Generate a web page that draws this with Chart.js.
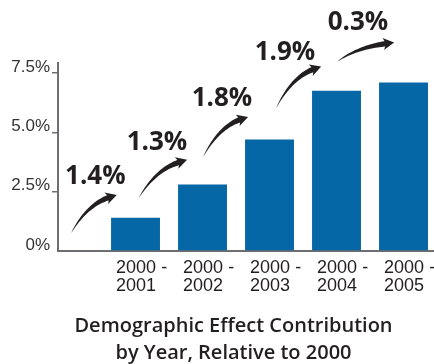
<!DOCTYPE html>
<html>
<head>
<meta charset="utf-8">
<script src="https://cdn.jsdelivr.net/npm/chart.js@4.4.0/dist/chart.umd.min.js"></script>
<style>
  html, body { margin: 0; padding: 0; background: #fff; }
  #wrap { width: 434px; height: 364px; position: relative; }
</style>
</head>
<body>
<div id="wrap"><canvas id="chart"></canvas></div>
<script>
// ---- data ----
const periods = [
    ['2000 -', '2001'],
    ['2000 -', '2002'],
    ['2000 -', '2003'],
    ['2000 -', '2004'],
    ['2000 -', '2005'],
];
const contribution = [1.4, 2.8, 4.7, 6.75, 7.1];   // cumulative effect, %
const yearGain = [1.4, 1.3, 1.8, 1.9, 0.3];         // step added each year, %
const yTicks = [0, 2.5, 5, 7.5];
const yTickLabels = ['0%', '2.5%', '5.0%', '7.5%'];
const titleLines = ['Demographic Effect Contribution', 'by Year, Relative to 2000'];

const BAR_BLUE = '#0567a6';
const INK = '#231f20';
const AXIS_GREY = '#6d6e71';

// curved tapering arrow, thin at the tail, head at (tx, ty)
function drawSwoosh(ctx, sx, sy, tx, ty) {
    const cx = sx + (tx - sx) * 0.35, cy = ty + (sy - ty) * 0.25;
    let ux = tx - cx, uy = ty - cy;
    const ul = Math.hypot(ux, uy); ux /= ul; uy /= ul;
    const headLen = 11, headW = 6, bodyW = 2.8;
    const bx = tx - ux * headLen * 0.7, by = ty - uy * headLen * 0.7;
    const left = [], right = [];
    const N = 30;
    for (let k = 0; k <= N; k++) {
        const t = k / N, mt = 1 - t;
        const px = mt * mt * sx + 2 * mt * t * cx + t * t * bx;
        const py = mt * mt * sy + 2 * mt * t * cy + t * t * by;
        let dx = 2 * mt * (cx - sx) + 2 * t * (bx - cx);
        let dy = 2 * mt * (cy - sy) + 2 * t * (by - cy);
        const dl = Math.hypot(dx, dy); dx /= dl; dy /= dl;
        const w = bodyW * Math.pow(t, 0.8);
        left.push([px - dy * w, py + dx * w]);
        right.push([px + dy * w, py - dx * w]);
    }
    ctx.beginPath();
    ctx.moveTo(left[0][0], left[0][1]);
    left.forEach(p => ctx.lineTo(p[0], p[1]));
    for (let k = right.length - 1; k >= 0; k--) ctx.lineTo(right[k][0], right[k][1]);
    ctx.closePath();
    ctx.fill();

    const hx = tx - ux * headLen, hy = ty - uy * headLen;
    ctx.beginPath();
    ctx.moveTo(tx, ty);
    ctx.lineTo(hx - uy * headW, hy + ux * headW);
    ctx.lineTo(hx + ux * 3, hy + uy * 3);
    ctx.lineTo(hx + uy * headW, hy - ux * headW);
    ctx.closePath();
    ctx.fill();
}

// year-over-year arrows with their step labels (positions in axis units)
const gainArrows = {
    id: 'gainArrows',
    afterDatasetsDraw(chart) {
        const { ctx, scales: { x, y } } = chart;
        const paths = [
            [0.04, 0.76, 0.72, 2.36],
            [1.05, 2.24, 1.77, 3.84],
            [2.01, 3.97, 2.68, 5.65],
            [3.10, 6.03, 3.77, 7.77],
            [4.01, 7.98, 4.86, 8.78],
        ];
        const labelAt = [
            [0.40, 2.83], [1.32, 4.26], [2.29, 6.12], [3.23, 8.06], [4.32, 9.33],
        ];
        ctx.save();
        ctx.fillStyle = INK;
        yearGain.forEach((g, i) => {
            const p = paths[i];
            drawSwoosh(ctx, x.getPixelForValue(p[0]), y.getPixelForValue(p[1]),
                x.getPixelForValue(p[2]), y.getPixelForValue(p[3]));
            ctx.font = "bold 26px 'Open Sans'";
            ctx.textAlign = 'center';
            ctx.textBaseline = 'alphabetic';
            ctx.fillText(g.toFixed(1) + '%', x.getPixelForValue(labelAt[i][0]), y.getPixelForValue(labelAt[i][1]));
        });
        ctx.restore();
    }
};

new Chart(document.getElementById('chart'), {
    type: 'bar',
    data: {
        datasets: [{
            data: contribution.map((v, i) => ({ x: i + 1, y: v })),
            backgroundColor: BAR_BLUE,
            borderWidth: 0,
            barPercentage: 0.73,
            categoryPercentage: 1,
        }]
    },
    options: {
        responsive: true,
        maintainAspectRatio: false,
        animation: false,
        // negative right padding widens the title box so the title sits left of the canvas centre
        layout: { padding: { top: 63, left: 8, right: -25, bottom: 0 } },
        plugins: {
            legend: { display: false },
            tooltip: { enabled: false },
            title: {
                display: true,
                position: 'bottom',
                text: titleLines,
                color: INK,
                font: { family: "'Open Sans'", size: 20, weight: '600', lineHeight: 1.35 },
                padding: { top: 11, bottom: -3 },
            }
        },
        scales: {
            x: {
                type: 'linear',
                offset: false,
                min: -0.157,
                max: 5.455,
                afterBuildTicks: s => { s.ticks = periods.map((_, i) => ({ value: i + 1 - 0.29 })); },
                afterFit: s => { s.height = 51; s.paddingLeft = 0; s.paddingRight = 0; },
                grid: { display: false, offset: false },
                border: { display: true, color: AXIS_GREY, width: 2 },
                ticks: {
                    align: 'start',
                    autoSkip: false,
                    maxRotation: 0,
                    padding: 0,
                    color: INK,
                    font: { family: "'Liberation Sans'", size: 18, lineHeight: 1.0 },
                    callback: (v, i) => periods[i],
                }
            },
            y: {
                min: 0,
                max: 7.92,
                afterBuildTicks: s => { s.ticks = yTicks.map(v => ({ value: v })); },
                afterFit: s => { s.width = 50; },
                grid: {
                    drawOnChartArea: false,
                    drawTicks: true,
                    tickLength: 6,
                    lineWidth: 1.5,
                    color: c => (c.tick && c.tick.value === 0) ? 'rgba(0,0,0,0)' : AXIS_GREY,
                },
                border: { color: AXIS_GREY, width: 2 },
                ticks: {
                    padding: 2,
                    labelOffset: -6,
                    color: '#333',
                    font: { family: "'Liberation Sans'", size: 17 },
                    callback: (v, i) => yTickLabels[i],
                }
            }
        }
    },
    plugins: [gainArrows]
});
</script>
</body>
</html>
